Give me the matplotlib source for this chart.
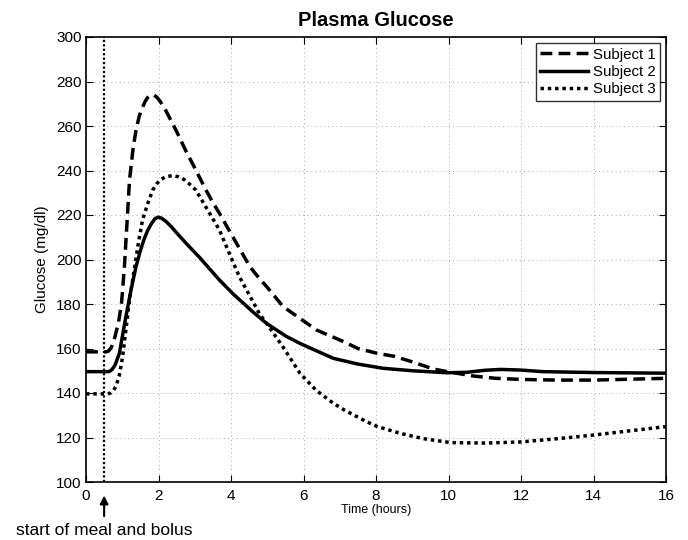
import matplotlib
matplotlib.use("Agg")
import matplotlib.pyplot as plt

plt.rcParams['font.family'] = ['Liberation Sans', 'DejaVu Sans']

# ---- data ----
t1 = [0, 0.55, 0.62, 0.7, 0.8, 0.9, 0.98, 1.06, 1.2, 1.3, 1.38, 1.47, 1.55, 1.63, 1.7, 1.76,
      1.81, 1.88, 1.95, 2.05, 2.2, 2.48, 2.75, 3.03, 3.3, 3.51, 3.68, 4.0, 4.52, 4.78, 5.0,
      5.44, 6.0, 6.36, 7.12, 7.5, 8.04, 8.5, 9.0, 9.58, 10.0, 10.7, 11.3, 12.0, 13.0, 14.0,
      15.0, 16]
g1 = [158.5, 158.5, 158.8, 160.5, 165.3, 172, 180.4, 196.8, 235.7, 250, 258.2, 264.5, 268,
      271, 272.8, 273.7, 274, 273.8, 273, 271, 267, 258.2, 249, 240.2, 231.5, 225.3, 220.8,
      211.6, 196.8, 191.5, 187.5, 178.8, 172.4, 168.3, 163, 160, 157.8, 156.5, 154, 150.8,
      149.5, 147.6, 146.6, 146.1, 145.8, 145.8, 146.2, 146.6]

t2 = [0, 0.6, 0.66, 0.72, 0.8, 0.92, 1.1, 1.25, 1.38, 1.5, 1.6, 1.7, 1.8, 1.9, 1.98, 2.08,
      2.2, 2.35, 2.5, 2.76, 3.14, 3.68, 4.06, 4.6, 4.98, 5.52, 5.9, 6.82, 7.5, 8.2, 9.0, 9.95,
      10.5, 11.0, 11.44, 12.0, 12.6, 14, 16]
g2 = [149.6, 149.6, 149.8, 150.6, 152.5, 157.8, 174.3, 187, 196.8, 204, 209, 213, 216,
      218.3, 219, 218.6, 217.2, 214.8, 212, 207.3, 200.8, 190.8, 184.5, 176.5, 171.3, 165.5,
      162.3, 155.6, 153, 151.1, 150, 149.1, 149.3, 150.2, 150.6, 150.3, 149.6, 149.2, 148.9]

t3 = [0, 0.6, 0.69, 0.76, 0.83, 0.92, 1.01, 1.2, 1.33, 1.45, 1.56, 1.7, 1.84, 1.95, 2.05,
      2.2, 2.39, 2.55, 2.7, 2.85, 3.03, 3.22, 3.68, 4.05, 4.23, 4.78, 4.98, 5.43, 5.9, 6.35,
      6.82, 7.12, 7.74, 8.04, 8.66, 9.3, 10.06, 11.0, 12.0, 13.1, 14.0, 15.0, 16]
g3 = [139.6, 139.6, 140.1, 141.2, 143.1, 148, 156.3, 181.8, 195.3, 208, 217.8, 225, 231.2,
      234, 235.8, 237.2, 237.7, 237.2, 236, 234, 231.2, 226, 213.3, 199, 192.3, 175.8, 171.3,
      160.8, 148.9, 141.2, 135.4, 132.4, 127.1, 124.9, 121.9, 119.5, 117.7, 117.5, 118,
      119.6, 121.1, 123, 124.9]

labels = ['Subject 1', 'Subject 2', 'Subject 3']
meal_time = 0.5
xticks = [0, 2, 4, 6, 8, 10, 12, 14, 16]
yticks = [100, 120, 140, 160, 180, 200, 220, 240, 260, 280, 300]

# ---- figure ----
fig = plt.figure(figsize=(6.88, 5.40), dpi=100)
ax = fig.add_axes([86/688, 1-482/540, 580/688, 445/540])

lw = 2.5
ax.plot(t1, g1, color='black', lw=lw, ls=(0, (3.4, 1.8)), label=labels[0])
ax.plot(t2, g2, color='black', lw=lw, ls='-', label=labels[1])
ax.plot(t3, g3, color='black', lw=lw, ls=(0, (1.0, 1.1)), label=labels[2])
ax.axvline(meal_time, color='black', lw=1.6, ls=(0, (1, 1)))

ax.set_xlim(0, 16)
ax.set_ylim(100, 300)
ax.set_xticks(xticks)
ax.set_yticks(yticks)
ax.grid(True, color='#8a8a8a', lw=0.6, ls=(0, (1, 4)))
ax.tick_params(direction='in', top=True, right=True, length=5, width=0.8,
               labelsize=11)
ax.tick_params(axis='x', pad=5)
ax.tick_params(axis='y', pad=3)
for s in ax.spines.values():
    s.set_linewidth(1.2)

ax.set_title('Plasma Glucose', fontsize=14.5, fontweight='bold', pad=8)
ax.set_xlabel('Time (hours)', fontsize=9, labelpad=1)
ax.set_ylabel('Glucose (mg/dl)', fontsize=11, labelpad=5)

leg = ax.legend(loc='upper right', fontsize=10.8, frameon=True, fancybox=False,
                edgecolor='black', handlelength=3.2, handletextpad=0.3,
                borderpad=0.3, labelspacing=0.22, borderaxespad=0.4)
leg.get_frame().set_linewidth(1.0)

ax.annotate('', xy=(meal_time, -0.024), xytext=(meal_time, -0.083),
            xycoords=('data', 'axes fraction'), textcoords=('data', 'axes fraction'),
            arrowprops=dict(arrowstyle='-|>', color='black', lw=1.5, mutation_scale=12),
            annotation_clip=False)
ax.text(meal_time, -0.118, 'start of meal and bolus', transform=ax.get_xaxis_transform(),
        ha='center', va='baseline', fontsize=12.5)

fig.savefig('out.png', dpi=100)
